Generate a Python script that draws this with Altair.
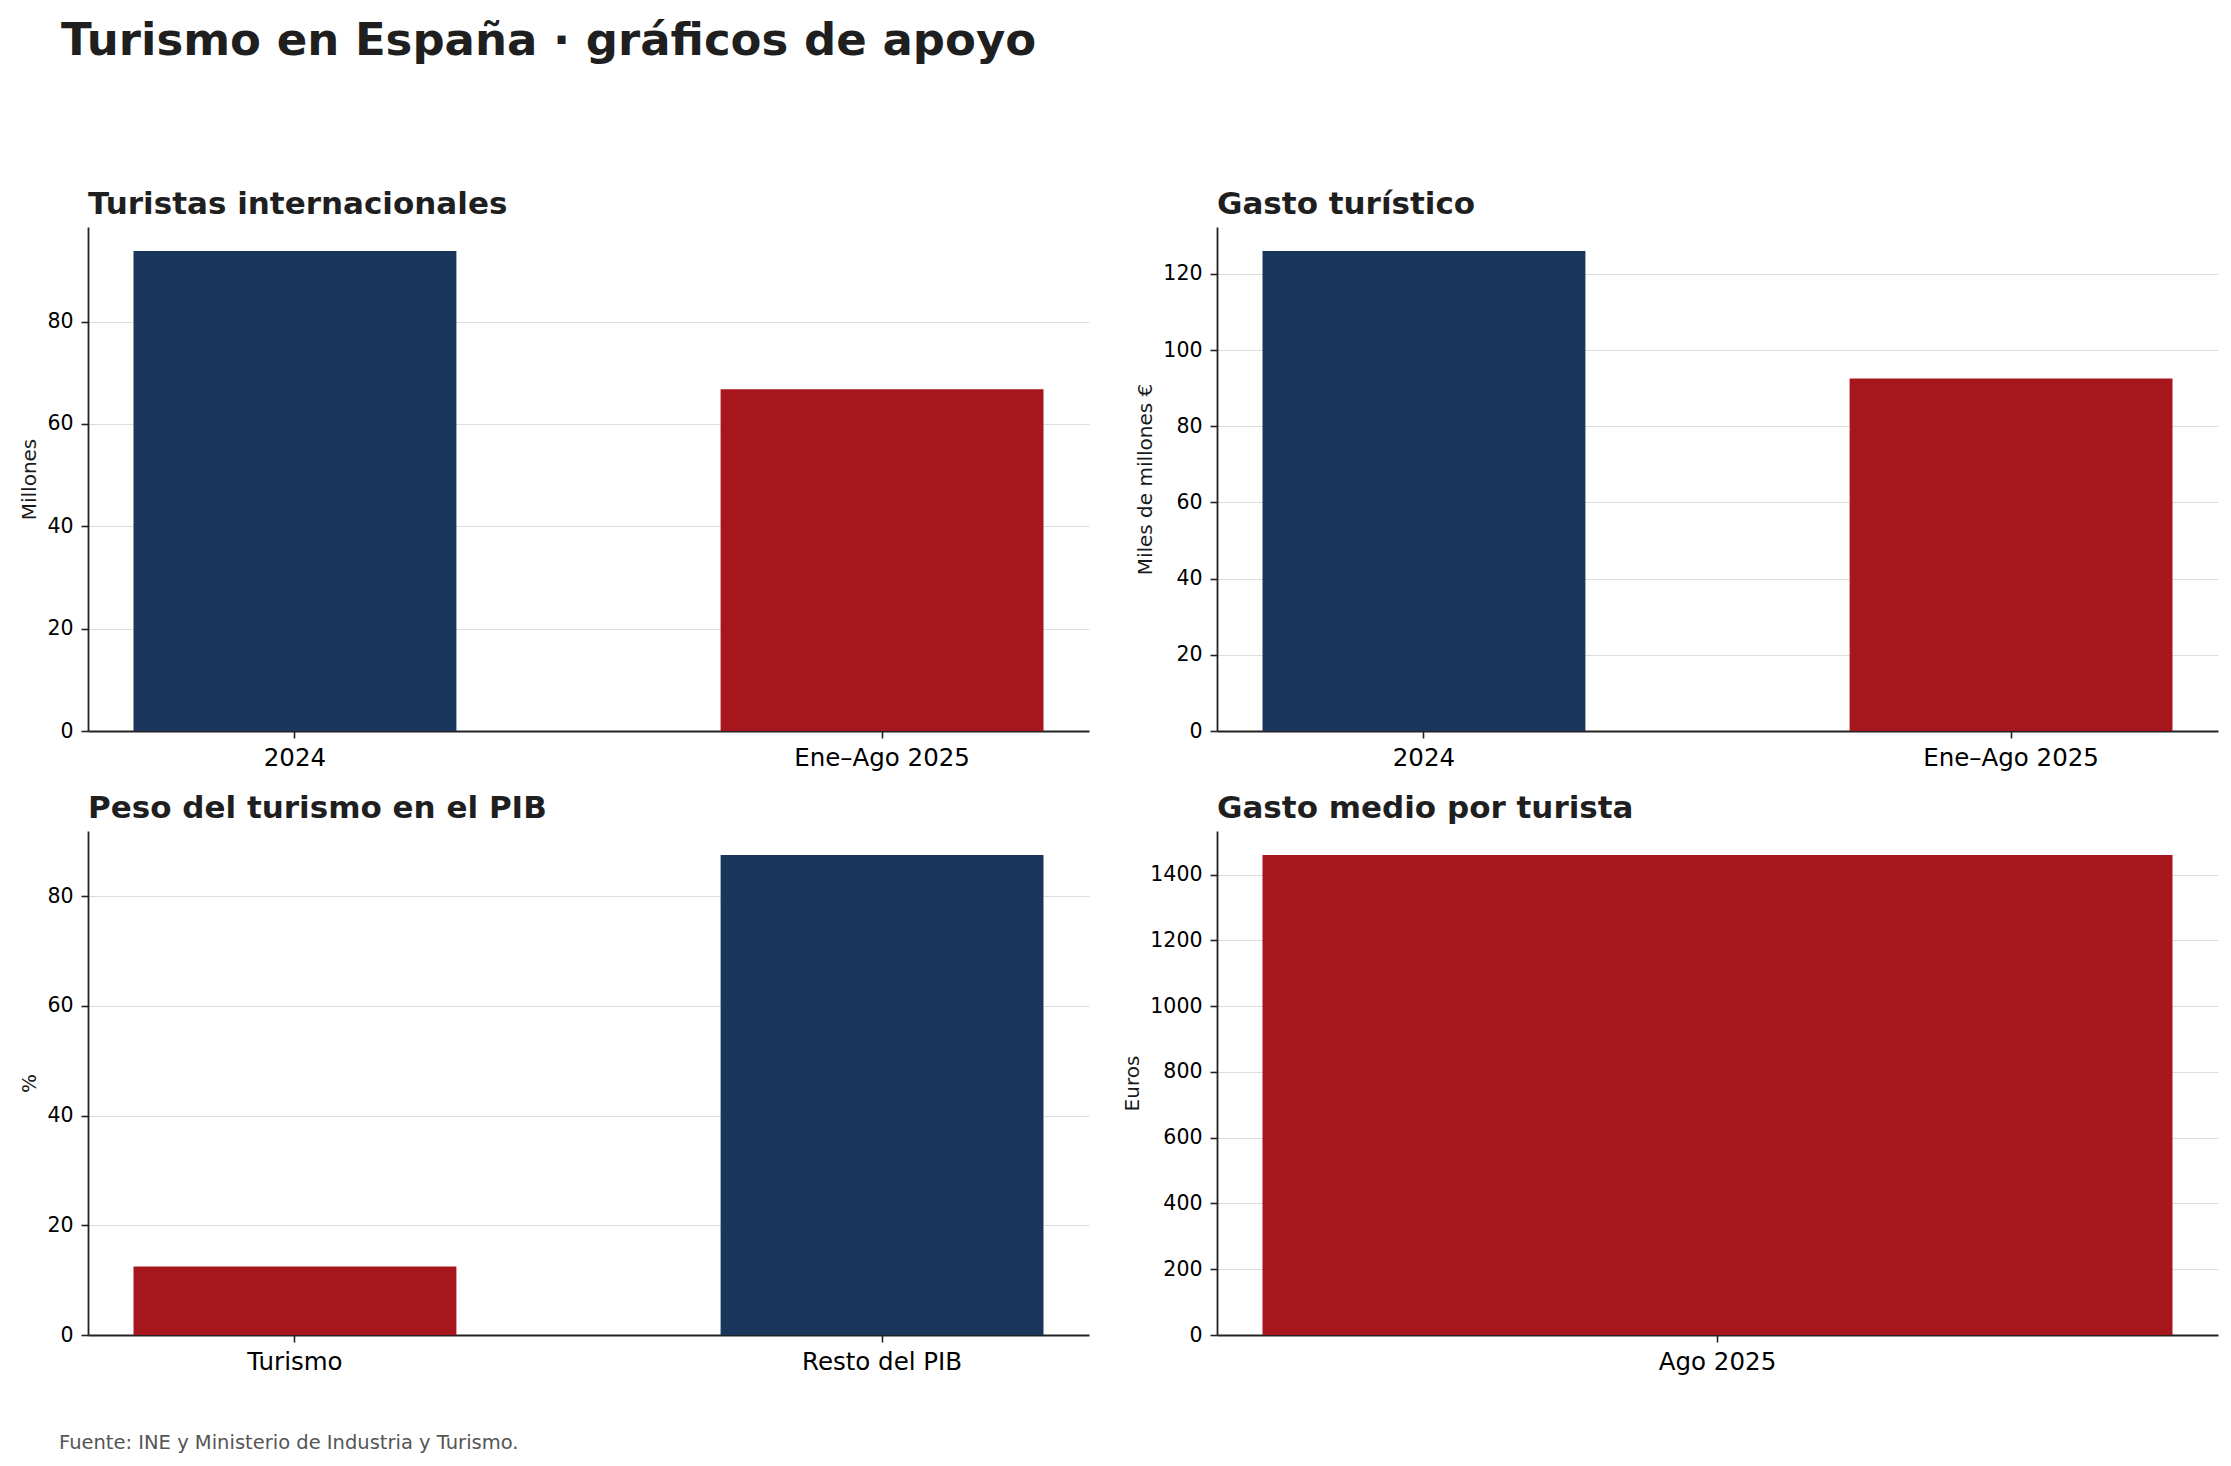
import altair as alt
import pandas as pd

# --- datos -------------------------------------------------------------
NAVY = "#1b365d"
RED = "#a8161d"

turistas_cat = ["2024", "Ene–Ago 2025"]
turistas_val = [93.8, 66.8]          # millones de turistas

gasto_cat = ["2024", "Ene–Ago 2025"]
gasto_val = [126.0, 92.5]            # miles de millones €

pib_cat = ["Turismo", "Resto del PIB"]
pib_val = [12.5, 87.5]               # % del PIB

medio_cat = ["Ago 2025"]
medio_val = [1460]                   # euros por turista

ticks_turistas = [0, 20, 40, 60, 80]
ticks_gasto = [0, 20, 40, 60, 80, 100, 120]
ticks_pib = [0, 20, 40, 60, 80]
ticks_medio = [0, 200, 400, 600, 800, 1000, 1200, 1400]

FONT = "DejaVu Sans"
W, H = 1001, 504


def panel(cats, vals, colors, title, ytitle, yticks, pad_outer):
    df = pd.DataFrame({"categoria": cats, "valor": vals})
    ymax = max(vals) * 1.05
    return (
        alt.Chart(df)
        .mark_bar()
        .encode(
            x=alt.X(
                "categoria:N",
                sort=None,
                scale=alt.Scale(paddingInner=0.45, paddingOuter=pad_outer),
                axis=alt.Axis(title=None, labelAngle=0, labelFontSize=24.5,
                              labelPadding=8, grid=False),
            ),
            y=alt.Y(
                "valor:Q",
                scale=alt.Scale(domain=[0, ymax], nice=False, zero=True),
                axis=alt.Axis(title=ytitle, values=yticks, format="d",
                              labelFontSize=20.5, labelPadding=8,
                              titleFontSize=20, titlePadding=7,
                              titleFontWeight="normal", grid=True),
            ),
            color=alt.Color("categoria:N",
                            scale=alt.Scale(domain=cats, range=colors),
                            legend=None),
        )
        .properties(
            width=W,
            height=H,
            title=alt.TitleParams(title, anchor="start", frame="group",
                                  fontSize=31, fontWeight="bold", font=FONT,
                                  color="#1f1f1f", offset=6),
        )
    )


p1 = panel(turistas_cat, turistas_val, [NAVY, RED],
           "Turistas internacionales", "Millones", ticks_turistas, 0.0775)
p2 = panel(gasto_cat, gasto_val, [NAVY, RED],
           "Gasto turístico", "Miles de millones €", ticks_gasto, 0.0775)
p3 = panel(pib_cat, pib_val, [RED, NAVY],
           "Peso del turismo en el PIB", "%", ticks_pib, 0.0775)
p4 = panel(medio_cat, medio_val, [RED],
           "Gasto medio por turista", "Euros", ticks_medio, 0.0275)

grid = alt.concat(p1, p2, p3, p4, columns=2, spacing={"row": 100, "column": 128},
                  bounds="flush").resolve_scale(
    color="independent", x="independent", y="independent"
).properties(
    title=alt.TitleParams("Turismo en España · gráficos de apoyo", anchor="start",
                          frame="group", dx=-27, offset=125, fontSize=45,
                          fontWeight="bold", font=FONT, color="#1f1f1f")
)

chart = alt.vconcat(grid, bounds="flush").properties(
    title=alt.TitleParams("Fuente: INE y Ministerio de Industria y Turismo.",
                          orient="bottom", anchor="start", frame="group", dx=-29,
                          offset=60, fontSize=19.5, fontWeight="normal", font=FONT,
                          color="#555555"),
    padding={"left": 19, "top": 19, "right": 10, "bottom": 10},
    background="white",
).configure_view(stroke=None).configure_axis(
    domainColor="#222222",
    domainWidth=1.8,
    tickColor="#222222",
    tickWidth=1.6,
    tickSize=7,
    labelFont=FONT,
    titleFont=FONT,
    labelColor="#000000",
    titleColor="#1a1a1a",
    gridColor="#dddddd",
    gridWidth=1.2,
)

chart.save("out.html", embed_options={"renderer": "svg", "actions": False})
